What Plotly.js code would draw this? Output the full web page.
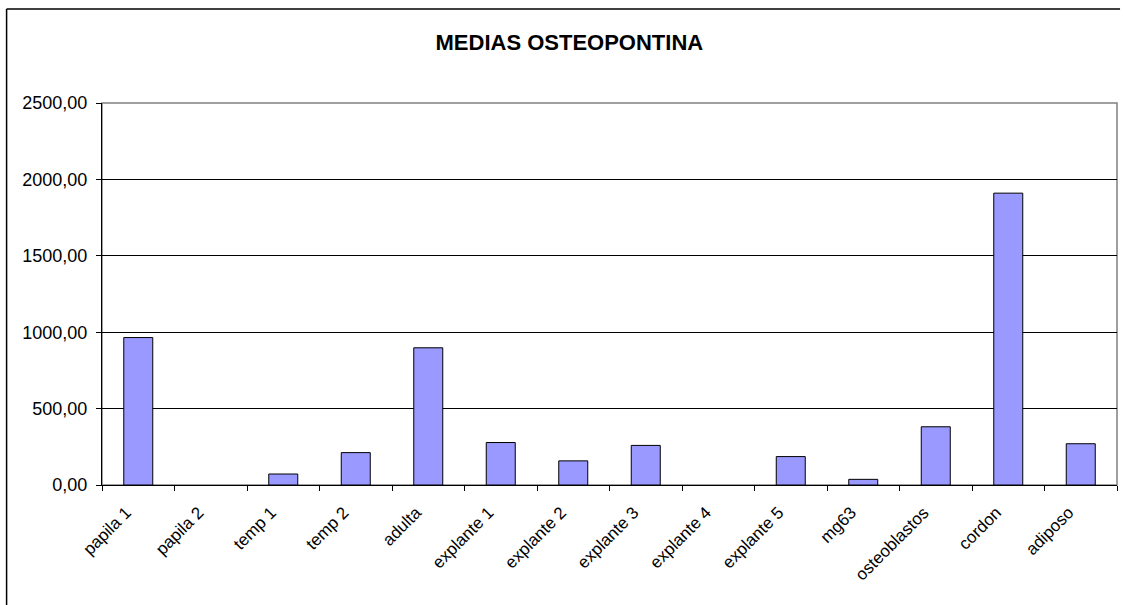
<!DOCTYPE html>
<html>
<head>
<meta charset="utf-8">
<script src="https://cdn.plot.ly/plotly-3.0.1.min.js"></script>
<style>
  html, body { margin: 0; padding: 0; background: #ffffff; overflow: hidden; }
  #chart { width: 1123px; height: 605px; }
</style>
</head>
<body>
<div id="chart"></div>
<script>
// Sample names along the category axis
const categories = [
  "papila 1", "papila 2", "temp 1", "temp 2", "adulta",
  "explante 1", "explante 2", "explante 3", "explante 4", "explante 5",
  "mg63", "osteoblastos", "cordon", "adiposo"
];

// Mean osteopontin value per sample
const means = [
  965, 0, 72, 212, 898,
  278, 158, 259, 0, 186,
  37, 381, 1910, 270
];

// Value axis ticks
const yTickValues = [0, 500, 1000, 1500, 2000, 2500];

const FONT = "Arial, 'Liberation Sans', sans-serif";

const trace = {
  type: "bar",
  x: categories,
  y: means,
  marker: {
    color: "#9999FF",
    // empty samples get no outline so nothing is drawn for them
    line: { color: "#000000", width: means.map(v => (v > 0 ? 1 : 0)) }
  },
  hoverinfo: "x+y"
};

const layout = {
  width: 1123,
  height: 605,
  margin: { l: 102, r: 6, t: 103, b: 120, pad: 0 },
  paper_bgcolor: "#ffffff",
  plot_bgcolor: "#ffffff",
  separators: ",.",
  showlegend: false,
  bargap: 0.6,
  font: { family: FONT, color: "#000000", size: 17 },
  title: {
    text: "<b>MEDIAS OSTEOPONTINA</b>",
    font: { family: FONT, size: 22, color: "#000000" },
    xref: "container", yref: "container",
    x: 0.507, y: 1 - 42 / 605,
    xanchor: "center", yanchor: "middle"
  },
  xaxis: {
    type: "category",
    range: [-0.5, categories.length - 0.5],
    tickson: "boundaries",
    ticks: "outside",
    ticklen: 5,
    tickcolor: "#000000",
    tickangle: -45,
    ticklabelstandoff: 10,
    ticklabelshift: -12,
    tickfont: { family: FONT, size: 17, color: "#000000" },
    showline: true,
    linecolor: "#000000",
    linewidth: 1,
    showgrid: false,
    zeroline: false,
    fixedrange: true
  },
  yaxis: {
    range: [0, 2500],
    tickvals: yTickValues,
    tickformat: ".2f",
    ticks: "outside",
    ticklen: 5,
    tickcolor: "#000000",
    ticklabelstandoff: 5,
    tickfont: { family: FONT, size: 18, color: "#000000" },
    showline: true,
    linecolor: "#000000",
    linewidth: 1,
    showgrid: true,
    gridcolor: "#000000",
    gridwidth: 1,
    zeroline: false,
    fixedrange: true
  },
  shapes: [
    // grey plot-area border (top and right edges show)
    {
      type: "rect", xref: "paper", yref: "paper",
      x0: 0, x1: 1, y0: 0, y1: 1,
      line: { color: "#808080", width: 1.5 },
      layer: "below"
    },
    // outer chart frame: top edge and left edge
    {
      type: "line", xref: "paper", yref: "paper",
      x0: -0.094, x1: 1.003, y0: 1.246, y1: 1.246,
      line: { color: "#000000", width: 1.5 },
      layer: "above"
    },
    {
      type: "line", xref: "paper", yref: "paper",
      x0: -0.094, x1: -0.094, y0: -0.4, y1: 1.246,
      line: { color: "#000000", width: 1.5 },
      layer: "above"
    }
  ]
};

Plotly.newPlot("chart", [trace], layout, { displayModeBar: false, staticPlot: true });
</script>
</body>
</html>
